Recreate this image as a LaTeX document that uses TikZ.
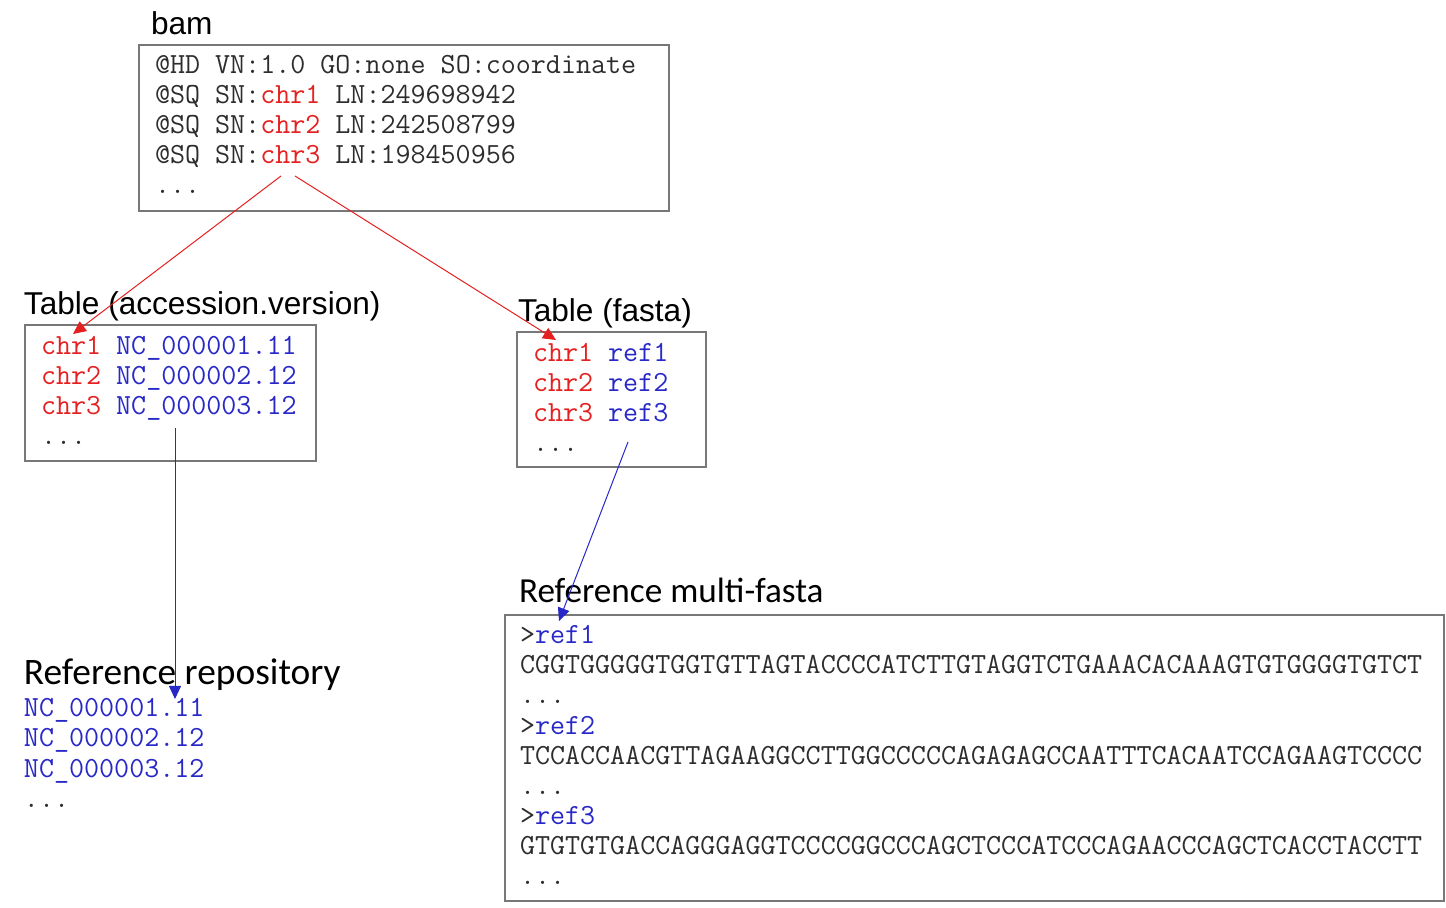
\documentclass[tikz,border=0pt]{standalone}
\usepackage{fontspec}
\usepackage{tikz}
\usetikzlibrary{arrows.meta}
\setmainfont{Liberation Sans}
\newfontfamily\monofont{Latin Modern Mono}
\newfontfamily\capfont{Carlito}
\definecolor{chrred}{RGB}{228,32,32}
\definecolor{refblue}{RGB}{40,40,200}
\definecolor{framegray}{RGB}{120,120,120}
\definecolor{codegray}{RGB}{45,45,45}

\begin{document}
\begin{tikzpicture}[x=0.5pt, y=-0.5pt,
  every node/.style={inner sep=0pt, outer sep=0pt, anchor=base west},
  title/.style={font=\fontsize{15.8}{18}\selectfont, text=black},
  bigtitle/.style={font=\capfont\fontsize{18.7}{22}\selectfont, text=black},
  code/.style={font=\monofont\fontsize{14.6}{15}\selectfont, text=codegray},
  frame/.style={draw=framegray, line width=1pt},
  link/.style={line width=0.5pt, -{Triangle[length=6.5pt, width=6pt]}}]
\useasboundingbox (0,0) rectangle (1446,908);

% bam header
\node[title] (bamtitle) at (151,35) {bam};
\draw[frame] (139,45) rectangle (669,211);
\node[code] (bam1) at (155,74) {@HD VN:1.0 GO:none SO:coordinate};
\node[code] (bam2) at (155,104) {@SQ SN:\textcolor{chrred}{chr1} LN:249698942};
\node[code] (bam3) at (155,134) {@SQ SN:\textcolor{chrred}{chr2} LN:242508799};
\node[code] (bam4) at (155,164) {@SQ SN:\textcolor{chrred}{chr3} LN:198450956};
\node[code] (bam5) at (155,194) {...};

% table (accession.version)
\node[title] (acctitle) at (24,315) {Table (accession.version)};
\draw[frame] (25,325) rectangle (316,461);
\node[code] (acc1) at (41,355) {\textcolor{chrred}{chr1} \textcolor{refblue}{NC\_000001.11}};
\node[code] (acc2) at (41,385) {\textcolor{chrred}{chr2} \textcolor{refblue}{NC\_000002.12}};
\node[code] (acc3) at (41,415) {\textcolor{chrred}{chr3} \textcolor{refblue}{NC\_000003.12}};
\node[code] (acc4) at (41,445) {...};

% table (fasta)
\node[title] (fatitle) at (518,322) {Table (fasta)};
\draw[frame] (517,332) rectangle (706,467);
\node[code] (fa1) at (533,362) {\textcolor{chrred}{chr1} \textcolor{refblue}{ref1}};
\node[code] (fa2) at (533,392) {\textcolor{chrred}{chr2} \textcolor{refblue}{ref2}};
\node[code] (fa3) at (533,422) {\textcolor{chrred}{chr3} \textcolor{refblue}{ref3}};
\node[code] (fa4) at (533,452) {...};

% reference repository
\node[bigtitle] (repotitle) at (24,684) {Reference repository};
\node[code] (repo1) at (24,717) {\textcolor{refblue}{NC\_000001.11}};
\node[code] (repo2) at (24,747) {\textcolor{refblue}{NC\_000002.12}};
\node[code] (repo3) at (24,777) {\textcolor{refblue}{NC\_000003.12}};
\node[code] (repo4) at (24,807) {...};

% reference multi-fasta
\node[bigtitle, font=\capfont\fontsize{17.6}{22}\selectfont] (mftitle) at (519,603) {Reference multi-fasta};
\draw[frame] (505,615) rectangle (1444,901);
\node[code] (mf1) at (520,644) {>\textcolor{refblue}{ref1}};
\node[code] (mf2) at (520,674) {CGGTGGGGGTGGTGTTAGTACCCCATCTTGTAGGTCTGAAACACAAAGTGTGGGGTGTCT};
\node[code] (mf3) at (520,704) {...};
\node[code] (mf4) at (520,734) {>\textcolor{refblue}{ref2}};
\node[code] (mf5) at (520,764) {TCCACCAACGTTAGAAGGCCTTGGCCCCCAGAGAGCCAATTTCACAATCCAGAAGTCCCC};
\node[code] (mf6) at (520,794) {...};
\node[code] (mf7) at (520,824) {>\textcolor{refblue}{ref3}};
\node[code] (mf8) at (520,854) {GTGTGTGACCAGGGAGGTCCCCGGCCCAGCTCCCATCCCAGAACCCAGCTCACCTACCTT};
\node[code] (mf9) at (520,884) {...};

% links
\coordinate (bamchrA) at (281,176);
\coordinate (bamchrB) at (295,176);
\coordinate (accchr) at (73,334);
\coordinate (fachr) at (556,340);
\coordinate (accref) at (175,428);
\coordinate (reporef) at (175,699);
\coordinate (faref) at (628,442);
\coordinate (mfref) at (559,621);
\draw[link, chrred] (bamchrA) -- (accchr);
\draw[link, chrred] (bamchrB) -- (fachr);
\draw[link, refblue] (accref) -- (reporef);
\draw[link, refblue] (faref) -- (mfref);
\end{tikzpicture}
\end{document}
